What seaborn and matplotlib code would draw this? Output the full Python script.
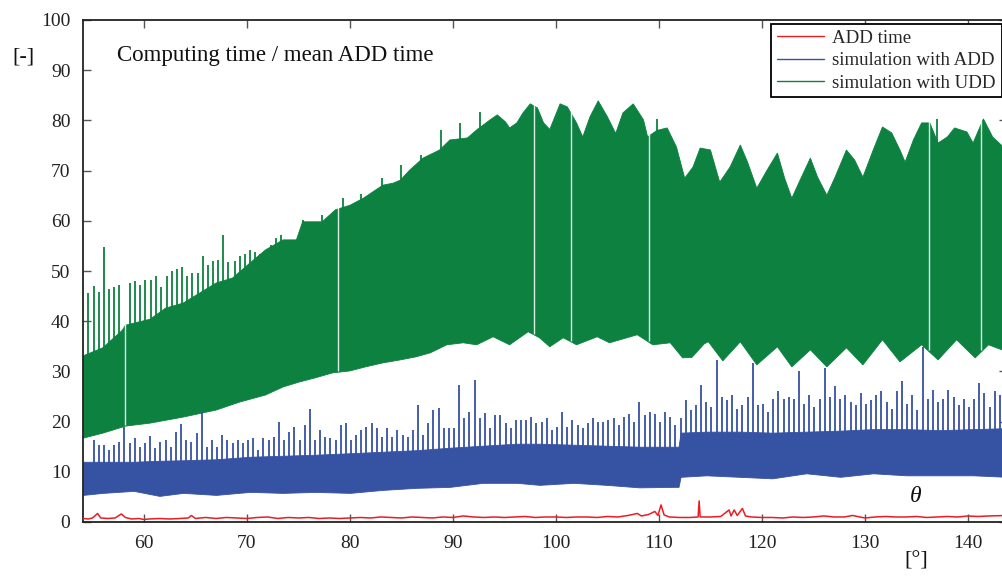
import numpy as np
import pandas as pd
import matplotlib
matplotlib.use("Agg")
import matplotlib.pyplot as plt
from matplotlib.lines import Line2D
import seaborn as sns

# ---------------- data (angle in degrees, time ratio) ----------------
# UDD simulation: upper and lower envelope of the dense oscillation
udd_hi_x = [54.1, 56.0, 57.9, 58.2, 60.6, 62.1, 63.8, 65.4, 67.0, 68.6, 70.3, 71.8,
            73.5, 74.8, 75.4, 77.3, 78.6, 80.0, 81.3, 83.2, 84.2, 84.9, 85.8, 87.1,
            88.7, 89.7, 91.4, 92.3, 93.6, 94.3, 95.1, 95.5, 96.2, 96.8, 97.5, 98.2,
            98.8, 99.4, 100.4, 101.1, 102.0, 102.6, 103.3, 104.1, 105.0, 105.8, 106.5,
            107.5, 108.5, 108.9, 109.8, 110.8, 111.7, 112.5, 113.3, 114.0, 115.0,
            115.9, 116.9, 117.9, 118.6, 119.5, 120.5, 121.5, 122.2, 122.9, 123.7,
            124.7, 125.4, 126.3, 127.1, 128.2, 129.0, 129.8, 130.8, 131.7, 132.6,
            133.4, 133.9, 134.7, 135.5, 136.3, 137.1, 138.0, 138.7, 139.9, 140.5,
            141.5, 142.4, 143.8]
udd_hi = [33.1, 34.7, 38.2, 39.2, 40.4, 42.6, 43.6, 45.6, 47.6, 48.6, 51.6, 54.2,
          56.2, 56.2, 59.8, 59.8, 62.2, 63.1, 64.5, 67.1, 67.5, 68.1, 70.1, 72.5,
          74.1, 76.1, 76.5, 78.1, 80.1, 81.1, 79.7, 78.5, 79.5, 81.5, 83.3, 82.5,
          79.5, 78.2, 83.3, 82.7, 79.5, 76.7, 80.7, 83.9, 80.7, 77.4, 81.5,
          83.3, 80.1, 76.7, 78.0, 78.5, 74.7, 68.5, 70.7, 74.5, 74.1,
          67.7, 70.7, 75.1, 71.7, 66.5, 70.1, 73.5, 68.5, 64.5, 68.1,
          72.5, 68.7, 65.1, 68.7, 74.1, 72.1, 68.7, 74.1, 78.7, 77.5,
          74.1, 71.7, 76.1, 79.5, 79.5, 75.5, 76.7, 78.5, 77.7, 75.5,
          80.3, 76.7, 74.0]
udd_lo_x = [54.1, 56.0, 57.9, 58.2, 60.6, 63.8, 67.0, 69.3, 71.8, 73.5, 75.1, 76.6,
            78.3, 80.0, 81.5, 83.2, 84.9, 86.4, 87.8, 89.4, 91.0, 92.3, 93.9, 95.5,
            97.3, 98.4, 99.4, 100.7, 102.0, 104.0, 105.2, 107.9, 109.4, 111.1, 112.3,
            113.2, 114.4, 114.8, 116.2, 117.9, 119.5, 121.5, 122.9, 124.7, 126.3,
            128.2, 129.8, 131.7, 133.4, 135.5, 137.1, 138.9, 140.7, 142.0, 143.8]
udd_lo = [16.7, 17.7, 18.9, 19.1, 19.7, 20.9, 22.3, 23.9, 25.3, 26.9, 27.9, 28.7,
          29.7, 30.1, 30.9, 31.7, 32.3, 32.9, 33.7, 35.3, 35.7, 35.3, 36.9, 35.3,
          37.9, 36.7, 34.9, 36.7, 35.3, 36.9, 35.7, 37.3, 35.3, 35.7, 32.7,
          32.8, 35.5, 35.9, 32.1, 35.9, 31.3, 34.9, 30.9, 34.3, 30.9,
          34.7, 31.3, 36.3, 31.9, 35.3, 32.3, 36.3, 32.7, 35.3, 33.9]
# isolated UDD peaks standing above the envelope
udd_peak_x = [54.56, 55.1, 55.6, 56.1, 56.6, 57.1, 57.6, 58.6, 59.1, 59.6, 60.1, 60.7,
              61.2, 61.7, 62.2, 62.7, 63.2, 63.7, 64.2, 64.7, 65.2, 65.7, 66.2, 66.7,
              67.2, 67.7, 68.2, 68.8, 69.3, 69.8, 70.3, 70.8, 71.3, 71.8, 72.3, 72.8,
              73.3, 75.4, 77.3, 79.3, 81.1, 83.1, 85.0, 86.9, 88.8, 90.7, 92.6, 109.8,
              137.0]
udd_peak = [45.6, 47.1, 45.9, 54.7, 46.5, 46.9, 47.2, 47.7, 48.1, 47.2, 48.2, 48.2,
            49.0, 46.9, 49.0, 50.0, 50.4, 50.7, 49.0, 49.7, 49.7, 53.0, 51.2, 51.9,
            52.2, 57.2, 51.7, 51.9, 53.0, 53.3, 54.2, 53.7, 53.3, 53.5, 55.2, 56.5,
            57.2, 60.2, 61.2, 64.6, 65.3, 68.5, 71.1, 73.1, 78.1, 79.5, 81.7, 80.2,
            80.2]
# angles where the UDD record has a dropout
udd_gap_x = [58.15, 78.8, 97.9, 101.5, 109.0, 136.2, 141.3]

# ADD simulation: band limits and the periodic peaks (one every 0.5 deg)
add_x = [54.1, 56.0, 59.0, 61.5, 63.8, 67.0, 70.3, 73.5, 76.6, 80.0, 83.2, 86.4,
         89.7, 92.9, 96.2, 98.4, 101.7, 104.9, 108.1, 111.4, 111.9, 112.1, 114.6,
         117.8, 121.0, 124.3, 127.6, 130.8, 134.0, 137.3, 140.5, 143.8]
add_lo = [5.4, 5.8, 6.2, 5.2, 5.8, 5.4, 6.0, 5.8, 6.0, 5.8, 6.4, 6.8,
          7.0, 7.8, 7.8, 7.4, 7.8, 7.4, 6.9, 7.0, 7.0, 9.0, 9.3,
          9.0, 8.7, 9.7, 9.0, 9.7, 9.3, 9.3, 9.3, 9.0]
add_hi = [12.0, 12.0, 12.0, 12.2, 12.3, 12.5, 13.0, 13.2, 13.4, 13.7, 14.0, 14.3,
          14.8, 15.2, 15.6, 15.6, 15.4, 15.2, 15.0, 15.0, 15.0, 17.8, 18.0,
          18.0, 17.8, 18.0, 18.2, 18.5, 18.5, 18.3, 18.5, 18.7]
add_peak_start, add_peak_step = 55.1, 0.5
add_peak = [16.3, 15.3, 15.3, 14.3, 15.3, 16.0, 19.0, 15.7, 16.7, 15.0, 15.7, 17.1,
            14.7, 16.0, 16.3, 15.0, 18.0, 19.5, 16.3, 16.0, 17.7, 22.0, 15.0, 16.3,
            15.0, 17.3, 16.3, 15.7, 16.3, 15.7, 16.3, 16.7, 14.3, 16.7, 16.3, 17.0,
            20.0, 16.3, 18.0, 19.0, 16.3, 19.3, 22.6, 16.3, 18.3, 17.0, 16.7, 16.3,
            19.3, 19.7, 16.3, 17.3, 18.3, 19.0, 19.7, 18.7, 17.0, 18.7, 17.0, 18.3,
            17.3, 17.0, 18.3, 23.3, 17.3, 19.7, 22.3, 22.8, 18.7, 18.7, 18.7, 27.3,
            20.7, 22.0, 28.2, 20.7, 21.7, 18.7, 21.4, 21.4, 19.7, 18.7, 20.3, 20.3,
            20.3, 21.0, 19.7, 20.0,
            20.7, 18.3, 19.0, 22.0, 19.0, 20.3, 19.3, 18.7, 19.7, 20.7, 20.0, 20.0,
            20.3, 20.7, 19.3, 21.0, 21.6, 20.0, 24.0, 21.3, 22.0, 21.6, 20.0, 22.0,
            21.0, 19.3, 20.7, 24.3, 22.3, 23.3, 27.3, 24.0, 23.0, 32.3, 25.0, 24.3,
            25.3, 22.6, 23.3, 25.0, 31.7, 23.3, 23.6, 22.0, 24.6, 26.0, 24.6, 25.0,
            24.6, 30.1, 23.6, 25.3, 23.0, 24.6, 30.6, 25.0, 27.0, 24.6, 25.3, 24.0,
            23.3, 25.6, 23.6, 24.3, 25.3, 26.0, 24.0, 22.6, 26.0, 28.0, 23.6, 25.3,
            22.3, 34.9, 24.6, 26.3, 24.0, 24.6, 26.3, 25.0, 23.3, 24.6, 23.0, 24.6,
            27.6, 25.6, 23.0, 26.0, 25.3]

# ADD time itself
addt_x = [54.1, 54.6, 55.0, 55.5, 55.8, 56.5, 57.2, 57.8, 58.2, 58.8, 59.5, 60.0,
          60.5, 61.5, 62.5, 63.5, 64.3, 64.6, 65.0, 66.0, 67.0, 68.0, 69.0, 70.0,
          71.0, 72.0, 73.0, 74.0, 75.0, 76.0, 77.0, 78.0, 79.0, 80.0, 81.0, 82.0,
          83.0, 84.0, 85.0, 86.0, 87.0, 88.0, 89.0, 90.0, 91.0, 92.0, 93.0, 94.0,
          95.0, 96.0, 97.0, 98.0, 99.0, 100.0, 101.0, 102.0, 103.0, 104.0, 105.0,
          106.0, 107.0, 107.9, 108.3, 109.0, 109.6, 109.9, 110.2, 110.5, 111.0,
          112.0, 113.0, 113.8, 113.9, 114.0, 115.0, 116.0, 116.8, 117.0, 117.3,
          117.6, 118.1, 118.4, 119.0, 120.0, 121.0, 122.0, 123.0, 124.0, 125.0,
          126.0, 127.0, 128.0, 128.8, 129.5, 130.0, 131.0, 132.0, 133.0, 134.0,
          135.0, 136.0, 137.0, 138.0, 139.0, 140.0, 141.0, 142.0, 143.8]
addt = [0.7, 0.6, 0.8, 1.7, 0.8, 0.7, 0.8, 1.6, 0.9, 0.6, 0.7, 0.5,
        0.6, 0.7, 0.6, 0.7, 0.8, 1.3, 0.7, 0.9, 0.7, 0.9, 0.8, 0.7,
        0.9, 1.0, 0.7, 0.9, 0.8, 0.9, 0.7, 0.8, 0.7, 0.8, 0.9, 0.8,
        1.0, 0.9, 0.8, 1.0, 0.9, 0.8, 1.0, 0.9, 1.2, 1.0, 0.9, 1.0,
        0.9, 1.0, 1.1, 0.9, 1.0, 1.0, 0.9, 1.0, 1.0, 0.9, 1.1,
        1.0, 1.3, 1.7, 1.2, 1.5, 2.1, 1.3, 3.4, 1.4, 1.0,
        0.9, 0.9, 1.0, 4.2, 1.0, 1.0, 1.1, 2.4, 1.2, 2.4,
        1.3, 2.7, 1.2, 1.0, 0.9, 0.9, 0.8, 1.0, 0.9, 1.0,
        1.2, 1.0, 1.0, 1.3, 1.0, 0.8, 1.0, 1.1, 1.0, 1.0,
        1.1, 0.9, 1.0, 1.1, 1.0, 1.2, 1.1, 1.2, 1.3]

labels = ["ADD time", "simulation with ADD", "simulation with UDD"]
x_ticks = [60, 70, 80, 90, 100, 110, 120, 130, 140]
y_ticks = [0, 10, 20, 30, 40, 50, 60, 70, 80, 90, 100]

# ---------------- styling ----------------
RED = "#ec1c24"
BLUE = "#3652a2"
GREEN = "#0c8140"

sns.set_theme(style="ticks")
plt.rcParams["font.family"] = ["Liberation Serif", "DejaVu Serif"]
plt.rcParams["axes.linewidth"] = 1.3

fig = plt.figure(figsize=(10.03, 5.77), dpi=100)
ax = fig.add_axes([83 / 1003, 1 - 522 / 577, (1007 - 83) / 1003, 502 / 577])

# UDD band
ax.fill(np.r_[udd_hi_x, udd_lo_x[::-1]], np.r_[udd_hi, udd_lo[::-1]],
        color=GREEN, lw=0.6, ec=GREEN, zorder=2)
peak_base = np.interp(udd_peak_x, udd_hi_x, udd_hi) - 1.0
ax.vlines(udd_peak_x, peak_base, udd_peak, color=GREEN, lw=1.3, zorder=2)
gap_lo = np.interp(udd_gap_x, udd_lo_x, udd_lo) + 0.3
gap_hi = np.interp(udd_gap_x, udd_hi_x, udd_hi) + 0.5
ax.vlines(udd_gap_x, gap_lo, gap_hi, color="white", lw=1.0, alpha=0.85, zorder=3)

# ADD simulation band
ax.fill_between(add_x, add_lo, add_hi, color=BLUE, lw=0.6, ec=BLUE, zorder=2)
peak_x = add_peak_start + add_peak_step * np.arange(len(add_peak))
peak_lo = np.interp(peak_x, add_x, add_lo)
ax.vlines(peak_x, peak_lo, add_peak, color=BLUE, lw=1.3, zorder=2)

# ADD time
df_t = pd.DataFrame({"deg": addt_x, "ratio": addt})
sns.lineplot(data=df_t, x="deg", y="ratio", color=RED, lw=1.1, ax=ax,
             sort=False, estimator=None, zorder=4)

ax.set_xlim(54.08, 143.79)
ax.set_ylim(0, 100)
ax.set_xticks(x_ticks)
ax.set_yticks(y_ticks)
ax.set_xlabel("")
ax.set_ylabel("")
for s in ax.spines.values():
    s.set_visible(True)
    s.set_color("#222222")
    s.set_linewidth(1.3)
ax.tick_params(direction="in", length=6, width=1.0, color="#555555",
               top=True, right=True, labelsize=14, pad=9, labelcolor="#222222")

handles = [Line2D([], [], color=c, lw=1.0) for c in (RED, BLUE, GREEN)]
leg = fig.legend(handles, labels, loc="upper left",
                 bbox_to_anchor=(771 / 1003, 1 - 24 / 577), borderaxespad=0,
                 fontsize=13.6, frameon=True, fancybox=False, framealpha=1,
                 edgecolor="black", handlelength=2.5, handletextpad=0.45,
                 borderpad=0.3, labelspacing=0.27)
leg.get_frame().set_linewidth(1.3)

fig.text(117 / 1003, 1 - 56 / 577, "Computing time / mean ADD time",
         fontsize=16.5, va="center", ha="left", color="#111111")
fig.text(23 / 1003, 1 - 57 / 577, "[-]", fontsize=16, va="center", ha="center",
         color="#111111")
fig.text(916 / 1003, 1 - 561 / 577, "[°]", fontsize=16, va="center", ha="center",
         color="#111111")
fig.text(916 / 1003, 1 - 497 / 577, "θ", fontsize=17, style="italic",
         va="center", ha="center", color="#111111")

fig.savefig("out.png", dpi=100)
